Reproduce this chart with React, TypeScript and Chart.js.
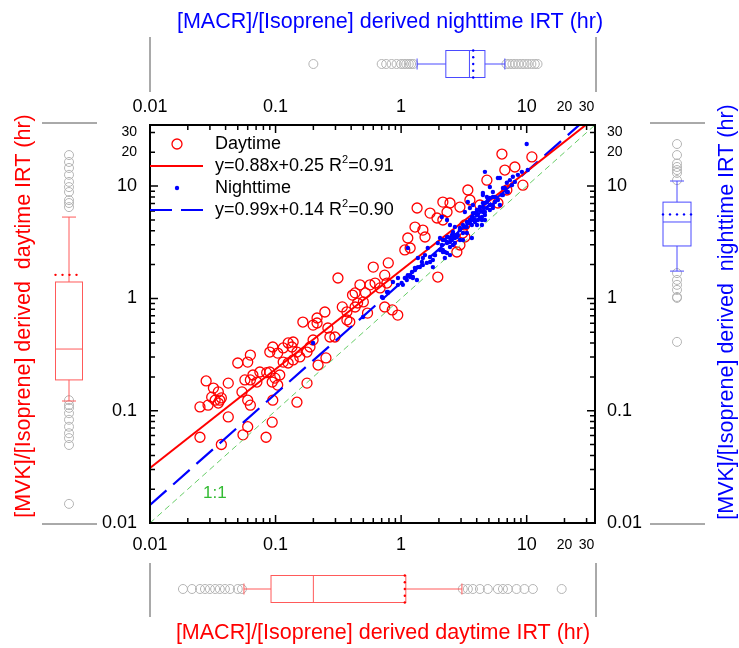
import React, { useEffect, useRef } from 'react';
import { Chart, registerables } from 'chart.js';

Chart.register(...registerables);

// ---------- data ----------
const DAY_X = [0.025, 0.037, 0.042, 0.025, 0.029, 0.035, 0.028, 0.032, 0.035, 0.037, 0.031, 0.033, 0.036, 0.042, 0.050, 0.060, 0.063, 0.054, 0.060, 0.063, 0.057, 0.063, 0.066, 0.071, 0.075, 0.085, 0.090, 0.094, 0.099, 0.108, 0.104, 0.090, 0.095, 0.104, 0.115, 0.126, 0.135, 0.138, 0.148, 0.156, 0.178, 0.188, 0.199, 0.115, 0.126, 0.138, 0.095, 0.094, 0.060, 0.055, 0.084, 0.148, 0.178, 0.165, 0.199, 0.314, 0.60, 0.74, 0.79, 0.47, 0.565, 0.62, 0.68, 0.77, 0.41, 0.43, 0.52, 0.37, 0.43, 0.45, 0.54, 0.74, 0.214, 0.247, 0.214, 0.261, 0.271, 0.297, 0.37, 0.39, 0.252, 0.218, 1.34, 1.70, 1.93, 2.15, 2.32, 2.45, 3.40, 3.53, 4.82, 1.29, 1.49, 1.55, 1.13, 1.07, 1.18, 2.78, 2.94, 1.96, 0.85, 0.94, 0.50, 0.34, 6.35, 11.0, 8.05, 6.70, 9.33, 6.95, 5.90, 4.24, 2.15, 3.22, 3.10, 3.22, 2.94];
const DAY_Y = [0.058, 0.050, 0.088, 0.108, 0.112, 0.117, 0.184, 0.159, 0.147, 0.130, 0.132, 0.124, 0.124, 0.176, 0.266, 0.271, 0.313, 0.147, 0.124, 0.112, 0.188, 0.188, 0.208, 0.180, 0.221, 0.218, 0.221, 0.180, 0.195, 0.208, 0.169, 0.333, 0.369, 0.326, 0.362, 0.401, 0.369, 0.409, 0.333, 0.301, 0.333, 0.369, 0.426, 0.271, 0.266, 0.283, 0.124, 0.079, 0.072, 0.061, 0.058, 0.119, 0.176, 0.616, 0.579, 1.52, 1.90, 1.61, 2.07, 1.32, 1.32, 1.37, 1.24, 1.37, 1.07, 1.12, 1.12, 0.76, 0.838, 0.91, 0.74, 0.838, 0.669, 0.757, 0.604, 0.545, 0.453, 0.453, 0.642, 0.616, 0.295, 0.255, 6.38, 5.75, 5.20, 7.21, 5.88, 7.07, 9.23, 7.52, 11.3, 4.32, 4.06, 3.52, 3.45, 2.70, 2.81, 2.59, 2.99, 1.55, 0.79, 0.71, 0.93, 0.84, 19.3, 18.2, 14.8, 13.9, 10.2, 9.23, 7.07, 6.79, 4.99, 4.51, 3.82, 3.52, 6.51];

const NIGHT_X = [0.199, 0.703, 0.771, 0.497, 0.716, 0.785, 0.944, 1.01, 1.07, 1.11, 1.13, 1.18, 1.22, 1.24, 1.29, 1.41, 1.49, 1.60, 1.70, 1.79, 1.13, 1.96, 2.04, 2.15, 2.32, 2.45, 2.59, 2.68, 2.83, 2.94, 3.11, 3.66, 3.34, 3.40, 3.66, 3.73, 3.87, 4.02, 4.09, 4.24, 4.40, 4.48, 4.65, 4.82, 4.91, 4.82, 4.48, 4.65, 2.45, 2.32, 2.23, 10.0, 5.09, 6.12, 7.62, 8.05, 8.51, 9.16, 10.2, 6.95, 6.70, 7.08, 5.38, 5.79, 4.82, 5.09, 5.59, 4.02, 4.09, 3.53, 3.66, 3.34, 3.11, 2.94, 2.78, 2.59, 2.45, 2.32, 2.23, 2.15, 2.04, 4.48, 3.73, 3.53, 3.22, 3.40, 6.47, 6.12, 5.38, 4.65, 4.40, 4.02, 2.68, 2.54, 1.36, 1.55, 1.86, 1.63,
  0.785, 0.861, 0.944, 1.033, 1.175, 1.242, 1.288, 1.336, 1.36, 1.464, 1.49, 1.70, 1.79, 1.86, 2.11, 2.15, 2.23, 2.32, 2.36, 2.45, 2.54, 2.59, 2.68, 2.78, 2.94, 3.11, 3.22, 3.34, 3.53, 3.66, 3.73, 3.87, 4.02, 4.40, 4.48, 4.65, 2.11, 2.32, 2.45, 5.90, 7.35, 7.76, 5.38, 5.59, 5.09, 4.48, 4.24, 4.02, 6.47, 6.95, 6.35, 5.90, 5.38, 5.09, 4.65, 4.24, 3.87];
const NIGHT_Y = [0.401, 1.03, 1.14, 0.683, 1.01, 1.12, 1.32, 1.37, 1.52, 1.46, 1.61, 1.55, 1.72, 1.52, 1.79, 1.90, 1.98, 2.07, 2.11, 1.90, 2.81, 3.11, 2.70, 3.31, 3.52, 3.18, 2.99, 3.45, 3.67, 3.31, 3.82, 3.45, 4.32, 4.69, 4.99, 5.31, 5.75, 6.12, 5.53, 6.51, 4.99, 5.88, 7.07, 6.38, 7.52, 8.00, 8.69, 13.4, 2.43, 2.54, 2.29, 23.7, 9.82, 11.8, 10.2, 10.9, 12.6, 13.4, 13.9, 10.7, 9.62, 8.86, 8.00, 7.84, 7.21, 6.79, 7.21, 5.53, 4.99, 4.99, 4.51, 4.79, 4.51, 4.24, 3.67, 3.90, 3.45, 3.18, 2.59, 2.70, 3.45, 8.34, 6.79, 6.38, 5.88, 7.21, 8.34, 6.79, 6.38, 4.99, 4.51, 4.51, 4.32, 3.67, 2.29, 2.43, 2.43, 2.81,
  1.14, 1.40, 1.52, 1.32, 1.61, 1.55, 1.87, 1.46, 1.90, 2.11, 2.29, 2.34, 2.20, 2.43, 2.99, 2.59, 3.31, 3.11, 3.52, 2.87, 3.31, 3.82, 3.11, 3.52, 4.06, 3.31, 4.32, 3.82, 4.69, 5.31, 5.75, 4.99, 6.12, 5.31, 7.07, 5.88, 5.31, 4.99, 4.51, 11.8, 11.3, 12.1, 8.86, 8.00, 7.84, 6.51, 6.12, 5.75, 9.62, 8.86, 8.34, 7.52, 6.79, 6.12, 5.53, 5.20, 4.79];

// log10(y) = slope * log10(x) + intercept
const DAY_FIT = [0.88, 0.25];
const NIGHT_FIT = [0.99, 0.14];
const FIT_RANGE = [0.01, 35];

const AXIS_MIN = 0.01;
const AXIS_MAX = 35;
const TICK_VALUES = [0.01, 0.1, 1, 10, 20, 30];
const TICK_LABELS = ['0.01', '0.1', '1', '10', '20', '30'];

// box stats: [whiskerLow, q1, median, q3, whiskerHigh, mean]
const BOX_MACR_NIGHT = [1.34, 2.27, 3.5, 4.65, 6.7, 3.75];
const OUT_MACR_NIGHT = [0.2, 0.7, 0.76, 0.84, 0.92, 1.0, 1.05, 1.1, 1.15, 1.2, 1.25, 6.9, 7.3, 7.7, 8.1, 8.6, 9.1, 9.6, 10.2, 10.9, 11.6, 12.2];
const BOX_MACR_DAY = [0.056, 0.092, 0.2, 1.09, 3.05, 1.07];
const OUT_MACR_DAY = [0.0183, 0.0216, 0.025, 0.0274, 0.030, 0.033, 0.036, 0.0395, 0.0434, 0.050, 0.054, 3.1, 3.4, 3.73, 4.24, 4.9, 5.9, 6.47, 7.08, 8.3, 9.6, 11.2, 19.0];
const BOX_MVK_DAY = [0.122, 0.188, 0.354, 1.40, 5.3, 1.62];
const OUT_MVK_DAY = [18.9, 16.4, 14.5, 12.6, 10.9, 9.8, 8.86, 7.5, 7.07, 6.5, 0.124, 0.112, 0.106, 0.095, 0.083, 0.072, 0.063, 0.057, 0.0495, 0.0148];
const BOX_MVK_NIGHT = [1.75, 2.93, 4.79, 7.2, 11.1, 5.6];
const OUT_MVK_NIGHT = [23.7, 18.9, 15.9, 14.8, 13.9, 13.1, 11.3, 1.68, 1.46, 1.32, 1.19, 1.03, 1.01, 0.41];

const TITLE_TOP = '[MACR]/[Isoprene] derived nighttime IRT (hr)';
const TITLE_BOTTOM = '[MACR]/[Isoprene] derived daytime IRT (hr)';
const TITLE_LEFT = '[MVK]/[Isoprene] derived  daytime IRT (hr)';
const TITLE_RIGHT = '[MVK]/[Isoprene] derived  nighttime IRT (hr)';
const LEGEND_NAMES = ['Daytime', 'Nighttime'];
const LEGEND_FITS = [['y=0.88x+0.25 R', '2', '=0.91'], ['y=0.99x+0.14 R', '2', '=0.90']];

const RED = '#ff0000';
const BLUE = '#0000ff';
const BOX_RED = '#ff5a5a';
const BOX_BLUE = '#4a4aff';
const FONT = '"Liberation Sans", Arial, Helvetica, sans-serif';

const fitLine = (fit: number[]) =>
  FIT_RANGE.map((x) => ({ x, y: Math.pow(10, fit[1] + fit[0] * Math.log10(x)) }));

const pts = (xs: number[], ys: number[]) => xs.map((x, i) => ({ x, y: ys[i] }));

function drawBoxH(ctx: CanvasRenderingContext2D, scale: any, stats: number[], outliers: number[], cy: number, half: number, color: string, meanColor: string) {
  const [lo, q1, med, q3, hi, mean] = stats.map((v) => scale.getPixelForValue(v));
  ctx.strokeStyle = '#b4b4b4';
  ctx.lineWidth = 1;
  outliers.forEach((v) => {
    ctx.beginPath();
    ctx.arc(scale.getPixelForValue(v), cy, 4.5, 0, Math.PI * 2);
    ctx.stroke();
  });
  ctx.strokeStyle = color;
  ctx.lineWidth = 1;
  ctx.beginPath();
  ctx.moveTo(lo, cy); ctx.lineTo(q1, cy);
  ctx.moveTo(q3, cy); ctx.lineTo(hi, cy);
  ctx.moveTo(lo, cy - 5.5); ctx.lineTo(lo, cy + 5.5);
  ctx.moveTo(hi, cy - 5.5); ctx.lineTo(hi, cy + 5.5);
  ctx.moveTo(med, cy - half); ctx.lineTo(med, cy + half);
  ctx.stroke();
  ctx.strokeRect(q1, cy - half, q3 - q1, 2 * half);
  ctx.fillStyle = meanColor;
  for (let y = cy - half; y <= cy + half + 0.1; y += 6.75) {
    ctx.beginPath();
    ctx.arc(mean, y, 1.2, 0, Math.PI * 2);
    ctx.fill();
  }
}

function drawBoxV(ctx: CanvasRenderingContext2D, scale: any, stats: number[], outliers: number[], cx: number, half: number, color: string, meanColor: string) {
  const [lo, q1, med, q3, hi, mean] = stats.map((v) => scale.getPixelForValue(v));
  ctx.strokeStyle = '#b4b4b4';
  ctx.lineWidth = 1;
  outliers.forEach((v) => {
    ctx.beginPath();
    ctx.arc(cx, scale.getPixelForValue(v), 4.5, 0, Math.PI * 2);
    ctx.stroke();
  });
  ctx.strokeStyle = color;
  ctx.lineWidth = 1;
  ctx.beginPath();
  ctx.moveTo(cx, lo); ctx.lineTo(cx, q1);
  ctx.moveTo(cx, q3); ctx.lineTo(cx, hi);
  ctx.moveTo(cx - 7, lo); ctx.lineTo(cx + 7, lo);
  ctx.moveTo(cx - 7, hi); ctx.lineTo(cx + 7, hi);
  ctx.moveTo(cx - half, med); ctx.lineTo(cx + half, med);
  ctx.stroke();
  ctx.strokeRect(cx - half, q3, 2 * half, q1 - q3);
  ctx.fillStyle = meanColor;
  for (let x = cx - half; x <= cx + half + 0.1; x += 7) {
    ctx.beginPath();
    ctx.arc(x, mean, 1.2, 0, Math.PI * 2);
    ctx.fill();
  }
}

const overlayPlugin = {
  id: 'overlay',
  afterDraw(chart: any) {
    const ctx: CanvasRenderingContext2D = chart.ctx;
    const ca = chart.chartArea;
    const xs = chart.scales.x;
    const ys = chart.scales.y;
    ctx.save();

    // frame
    ctx.strokeStyle = '#000';
    ctx.lineWidth = 2;
    ctx.strokeRect(ca.left, ca.top, ca.right - ca.left, ca.bottom - ca.top);

    // inward ticks on four sides
    ctx.lineWidth = 1.5;
    ctx.beginPath();
    for (let d = AXIS_MIN; d < AXIS_MAX; d *= 10) {
      for (let k = 1; k <= 9; k++) {
        const v = d * k;
        if (v > AXIS_MAX * 0.999) break;
        const len = k === 1 ? 8 : 5;
        const px = xs.getPixelForValue(v);
        const py = ys.getPixelForValue(v);
        ctx.moveTo(px, ca.bottom); ctx.lineTo(px, ca.bottom - len);
        ctx.moveTo(px, ca.top); ctx.lineTo(px, ca.top + len);
        ctx.moveTo(ca.left, py); ctx.lineTo(ca.left + len, py);
        ctx.moveTo(ca.right, py); ctx.lineTo(ca.right - len, py);
      }
    }
    ctx.stroke();

    // "1:1" label
    ctx.fillStyle = '#33bb33';
    ctx.font = `17px ${FONT}`;
    ctx.textAlign = 'left';
    ctx.textBaseline = 'middle';
    ctx.fillText('1:1', 203, 493);

    // legend
    const lx = ca.left;
    const tx = 215;
    const rows = [144, 166, 188, 210];
    ctx.strokeStyle = RED;
    ctx.lineWidth = 1.3;
    ctx.beginPath();
    ctx.arc(177, rows[0], 5, 0, Math.PI * 2);
    ctx.stroke();
    ctx.lineWidth = 2;
    ctx.beginPath();
    ctx.moveTo(lx, rows[1]); ctx.lineTo(203, rows[1]);
    ctx.stroke();
    ctx.fillStyle = BLUE;
    ctx.beginPath();
    ctx.arc(177, rows[2], 2.2, 0, Math.PI * 2);
    ctx.fill();
    ctx.strokeStyle = BLUE;
    ctx.lineWidth = 2.2;
    ctx.setLineDash([22, 9]);
    ctx.beginPath();
    ctx.moveTo(lx, rows[3]); ctx.lineTo(204, rows[3]);
    ctx.stroke();
    ctx.setLineDash([]);

    ctx.fillStyle = '#000';
    ctx.font = `18px ${FONT}`;
    ctx.fillText(LEGEND_NAMES[0], tx, rows[0]);
    ctx.fillText(LEGEND_NAMES[1], tx, rows[2]);
    [rows[1], rows[3]].forEach((ry, i) => {
      const [a, sup, b] = LEGEND_FITS[i];
      ctx.font = `18px ${FONT}`;
      ctx.fillText(a, tx, ry);
      let w = ctx.measureText(a).width;
      ctx.font = `11px ${FONT}`;
      ctx.fillText(sup, tx + w, ry - 6);
      w += ctx.measureText(sup).width;
      ctx.font = `18px ${FONT}`;
      ctx.fillText(b, tx + w, ry);
    });

    // side panels (frame lines)
    ctx.strokeStyle = '#555';
    ctx.lineWidth = 1;
    ctx.beginPath();
    ctx.moveTo(ca.left, 37); ctx.lineTo(ca.left, 92);
    ctx.moveTo(ca.right + 1, 37); ctx.lineTo(ca.right + 1, 92);
    ctx.moveTo(ca.left, 563); ctx.lineTo(ca.left, 617);
    ctx.moveTo(ca.right + 1, 563); ctx.lineTo(ca.right + 1, 617);
    ctx.moveTo(42, ca.top - 2); ctx.lineTo(97, ca.top - 2);
    ctx.moveTo(42, ca.bottom + 1); ctx.lineTo(97, ca.bottom + 1);
    ctx.moveTo(650, ca.top - 2); ctx.lineTo(705, ca.top - 2);
    ctx.moveTo(650, ca.bottom + 1); ctx.lineTo(705, ca.bottom + 1);
    ctx.stroke();

    // box plots
    drawBoxH(ctx, xs, BOX_MACR_NIGHT, OUT_MACR_NIGHT, 64, 13.5, BOX_BLUE, BLUE);
    drawBoxH(ctx, xs, BOX_MACR_DAY, OUT_MACR_DAY, 589, 13.5, BOX_RED, RED);
    drawBoxV(ctx, ys, BOX_MVK_DAY, OUT_MVK_DAY, 69, 13.5, BOX_RED, RED);
    drawBoxV(ctx, ys, BOX_MVK_NIGHT, OUT_MVK_NIGHT, 677, 14, BOX_BLUE, BLUE);

    // titles
    ctx.font = `21.5px ${FONT}`;
    ctx.textAlign = 'center';
    ctx.textBaseline = 'middle';
    ctx.fillStyle = BLUE;
    ctx.fillText(TITLE_TOP, 390, 22);
    ctx.fillStyle = RED;
    ctx.fillText(TITLE_BOTTOM, 383, 633);
    ctx.save();
    ctx.translate(24, 316);
    ctx.rotate(-Math.PI / 2);
    ctx.fillStyle = RED;
    ctx.fillText(TITLE_LEFT, 0, 0);
    ctx.restore();
    ctx.save();
    ctx.translate(727, 312);
    ctx.rotate(-Math.PI / 2);
    ctx.fillStyle = BLUE;
    ctx.fillText(TITLE_RIGHT, 0, 0);
    ctx.restore();

    ctx.restore();
  },
};

const tickFont = (ctx: any) => {
  const v = ctx.tick ? ctx.tick.value : 1;
  return v >= 20
    ? { family: FONT, size: 14, lineHeight: '22px' }
    : { family: FONT, size: 18, lineHeight: '22px' };
};

const setTicks = (scale: any) => {
  scale.ticks = TICK_VALUES.map((v) => ({ value: v }));
};

const tickLabel = (value: any) => {
  const i = TICK_VALUES.findIndex((t) => Math.abs(t - Number(value)) < 1e-9);
  return i >= 0 ? TICK_LABELS[i] : '';
};

const axis = (position: string, size: number, padding: number) => ({
  type: 'logarithmic' as const,
  position,
  min: AXIS_MIN,
  max: AXIS_MAX,
  afterBuildTicks: setTicks,
  afterFit: (scale: any) => {
    if (position === 'top' || position === 'bottom') scale.height = size;
    else scale.width = size;
  },
  grid: { display: false, drawTicks: false },
  border: { display: false },
  ticks: {
    autoSkip: false,
    maxRotation: 0,
    minRotation: 0,
    padding,
    color: '#000',
    font: tickFont,
    callback: tickLabel,
  },
});

export default function App() {
  const ref = useRef<HTMLCanvasElement | null>(null);

  useEffect(() => {
    if (!ref.current) return;
    const chart = new Chart(ref.current, {
      type: 'scatter',
      data: {
        datasets: [
          {
            label: LEGEND_NAMES[1],
            data: pts(NIGHT_X, NIGHT_Y),
            pointRadius: 2.2,
            pointBackgroundColor: BLUE,
            pointBorderWidth: 0,
            showLine: false,
          },
          {
            type: 'line',
            label: 'day fit',
            data: fitLine(DAY_FIT),
            borderColor: RED,
            borderWidth: 2,
            pointRadius: 0,
            fill: false,
          },
          {
            type: 'line',
            label: 'night fit',
            data: fitLine(NIGHT_FIT),
            borderColor: BLUE,
            borderWidth: 2.2,
            borderDash: [22, 9],
            pointRadius: 0,
            fill: false,
          },
          {
            type: 'line',
            label: '1:1',
            data: FIT_RANGE.map((v) => ({ x: v, y: v })),
            borderColor: '#66cc66',
            borderWidth: 1,
            borderDash: [6, 4],
            pointRadius: 0,
            fill: false,
          },
          {
            label: LEGEND_NAMES[0],
            data: pts(DAY_X, DAY_Y),
            pointRadius: 5,
            pointBorderColor: RED,
            pointBackgroundColor: 'rgba(0,0,0,0)',
            pointBorderWidth: 1.3,
            showLine: false,
          },
        ] as any,
      },
      options: {
        responsive: false,
        animation: false,
        devicePixelRatio: 1,
        layout: { padding: 0 },
        plugins: { legend: { display: false }, tooltip: { enabled: false } },
        scales: {
          x: axis('bottom', 125, 11),
          x2: axis('top', 125, 7),
          y: axis('left', 150, 13),
          y2: axis('right', 144, 12),
        } as any,
      },
      plugins: [overlayPlugin],
    });
    return () => chart.destroy();
  }, []);

  return (
    <div style={{ position: 'absolute', left: 0, top: 0, width: 739, height: 648, background: '#fff' }}>
      <canvas ref={ref} width={739} height={648} style={{ width: 739, height: 648, display: 'block' }} />
    </div>
  );
}
